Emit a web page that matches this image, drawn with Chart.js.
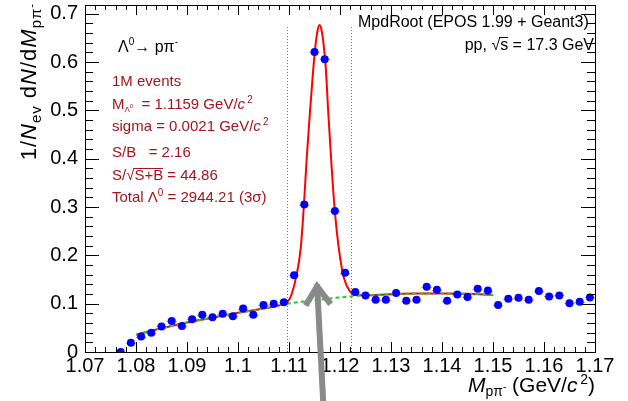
<!DOCTYPE html>
<html>
<head>
<meta charset="utf-8">
<script src="https://cdn.jsdelivr.net/npm/chart.js@4.4.1/dist/chart.umd.min.js"></script>
<style>
  body { margin: 0; background: #fff; }
</style>
</head>
<body>
<canvas id="lambda-mass-chart" width="628" height="401"></canvas>
<script>
// Invariant mass bins (bin centres, GeV/c^2) and 1/Nev dN/dM values
const massBins = [
    1.077, 1.079, 1.081, 1.083, 1.085, 1.087, 1.089, 1.091, 1.093, 1.095,
    1.097, 1.099, 1.101, 1.103, 1.105, 1.107, 1.109, 1.111, 1.113, 1.115,
    1.117, 1.119, 1.121, 1.123, 1.125, 1.127, 1.129, 1.131, 1.133, 1.135,
    1.137, 1.139, 1.141, 1.143, 1.145, 1.147, 1.149, 1.151, 1.153, 1.155,
    1.157, 1.159, 1.161, 1.163, 1.165, 1.167, 1.169
];
const yieldValues = [
    0.000, 0.019, 0.032, 0.040, 0.053, 0.064, 0.054, 0.068, 0.077, 0.072,
    0.079, 0.074, 0.090, 0.077, 0.097, 0.100, 0.103, 0.159, 0.305, 0.621,
    0.606, 0.292, 0.164, 0.124, 0.117, 0.108, 0.108, 0.122, 0.106, 0.108,
    0.135, 0.129, 0.106, 0.119, 0.114, 0.131, 0.127, 0.097, 0.110, 0.112,
    0.108, 0.126, 0.115, 0.117, 0.101, 0.104, 0.113
];
const binHalfWidth = 0.001;

// Fit: signal + background (red), background only (green dashed)
const fitX = [
    1.080, 1.085, 1.090, 1.095, 1.100, 1.105, 1.107, 1.108, 1.109, 1.1098,
    1.1105, 1.1115, 1.1123, 1.1129, 1.1135, 1.1141, 1.1147, 1.1152, 1.1156, 1.1160,
    1.1164, 1.1168, 1.1172, 1.1177, 1.1184, 1.1190, 1.1199, 1.1208, 1.1220, 1.1232,
    1.125, 1.130, 1.135, 1.140, 1.145, 1.150
];
const fitY = [
    0.036, 0.049, 0.061, 0.071, 0.081, 0.090, 0.0935, 0.096, 0.100, 0.105,
    0.119, 0.160, 0.215, 0.300, 0.405, 0.495, 0.578, 0.635, 0.665, 0.6765,
    0.665, 0.635, 0.590, 0.495, 0.376, 0.290, 0.204, 0.152, 0.125, 0.118,
    0.1175, 0.1195, 0.121, 0.121, 0.1205, 0.118
];
const bgX = [1.080, 1.085, 1.090, 1.095, 1.100, 1.105, 1.110, 1.115, 1.120, 1.125, 1.130, 1.135, 1.140, 1.145, 1.150];
const bgY = [0.036, 0.049, 0.061, 0.071, 0.081, 0.090, 0.1005, 0.107, 0.113, 0.1175, 0.1195, 0.121, 0.121, 0.1205, 0.118];

// 3 sigma window and arrow (data coordinates)
const cutLines = [1.1096, 1.1222];
const cutTop = 0.673;
const arrowTip = [1.1155, 0.140];
const arrowTail = [1.1167, -0.102];

// Axis ticks
const xTickValues = [1.07, 1.08, 1.09, 1.10, 1.11, 1.12, 1.13, 1.14, 1.15, 1.16, 1.17];
const yTickValues = [0, 0.1, 0.2, 0.3, 0.4, 0.5, 0.6, 0.7];
const xMinorStep = 0.002;
const yMinorStep = 0.02;

const fontFamily = '"Liberation Sans", Arial, sans-serif';
const labelRed = '#a3161d';

function fmt(v) {
    return parseFloat(v.toFixed(3)).toString();
}

// small helper for text with sub/superscripts
function T(t, s, dy, it, over) {
    return { t: t, s: s, dy: dy || 0, it: !!it, over: !!over };
}

function drawRich(ctx, parts, x, y, align, color) {
    let total = 0;
    parts.forEach(p => {
        ctx.font = (p.it ? 'italic ' : '') + p.s + 'px ' + fontFamily;
        p.w = ctx.measureText(p.t).width;
        total += p.w;
    });
    let cx = align === 'right' ? x - total : x;
    ctx.fillStyle = color;
    ctx.strokeStyle = color;
    ctx.textAlign = 'left';
    ctx.textBaseline = 'alphabetic';
    parts.forEach(p => {
        ctx.font = (p.it ? 'italic ' : '') + p.s + 'px ' + fontFamily;
        ctx.fillText(p.t, cx, y + p.dy);
        if (p.over) {
            const oy = Math.round(y + p.dy - p.s * 0.8) + 0.5;
            ctx.lineWidth = 1;
            ctx.beginPath();
            ctx.moveTo(cx - 1, oy);
            ctx.lineTo(cx + p.w, oy);
            ctx.stroke();
        }
        cx += p.w;
    });
}

const rootStylePlugin = {
    id: 'rootStyle',
    beforeDatasetsDraw(chart) {
        const ctx = chart.ctx;
        const xs = chart.scales.x, ys = chart.scales.y;
        ctx.save();
        // 3 sigma window
        ctx.strokeStyle = '#777';
        ctx.lineWidth = 1;
        ctx.setLineDash([1, 2]);
        cutLines.forEach(c => {
            const px = Math.round(xs.getPixelForValue(c)) + 0.5;
            ctx.beginPath();
            ctx.moveTo(px, ys.getPixelForValue(0));
            ctx.lineTo(px, ys.getPixelForValue(cutTop));
            ctx.stroke();
        });
        ctx.setLineDash([]);
        // horizontal error bars
        ctx.strokeStyle = 'rgba(240, 90, 90, 0.8)';
        massBins.forEach((m, i) => {
            const py = Math.round(ys.getPixelForValue(yieldValues[i])) + 0.5;
            ctx.beginPath();
            ctx.moveTo(xs.getPixelForValue(m - binHalfWidth), py);
            ctx.lineTo(xs.getPixelForValue(m + binHalfWidth), py);
            ctx.stroke();
        });
        ctx.restore();
    },
    afterDraw(chart) {
        const ctx = chart.ctx;
        const a = chart.chartArea;
        const xs = chart.scales.x, ys = chart.scales.y;
        ctx.save();
        // frame
        ctx.strokeStyle = '#000';
        ctx.lineWidth = 1;
        ctx.strokeRect(Math.round(a.left) + 0.5, Math.round(a.top) + 0.5,
            Math.round(a.right - a.left), Math.round(a.bottom - a.top));
        // ticks pointing inwards, on all four sides
        ctx.beginPath();
        for (let v = xTickValues[0]; v <= xTickValues[xTickValues.length - 1] + 1e-9; v += xMinorStep) {
            const major = xTickValues.some(t => Math.abs(t - v) < 1e-6);
            const len = major ? 10 : 5;
            const px = Math.round(xs.getPixelForValue(v)) + 0.5;
            ctx.moveTo(px, a.bottom);
            ctx.lineTo(px, a.bottom - len);
            ctx.moveTo(px, a.top);
            ctx.lineTo(px, a.top + len);
        }
        for (let v = 0; v <= ys.max + 1e-9; v += yMinorStep) {
            const major = yTickValues.some(t => Math.abs(t - v) < 1e-6);
            const len = major ? 14 : 8;
            const py = Math.round(ys.getPixelForValue(v)) + 0.5;
            ctx.moveTo(a.left, py);
            ctx.lineTo(a.left + len, py);
            ctx.moveTo(a.right, py);
            ctx.lineTo(a.right - len, py);
        }
        ctx.stroke();

        // arrow pointing at the peak
        const tx = xs.getPixelForValue(arrowTip[0]), ty = ys.getPixelForValue(arrowTip[1]);
        const bx = xs.getPixelForValue(arrowTail[0]), by = ys.getPixelForValue(arrowTail[1]);
        const ang = Math.atan2(by - ty, bx - tx);
        ctx.strokeStyle = '#8a8a8a';
        ctx.lineWidth = 6;
        ctx.beginPath();
        ctx.moveTo(bx, by);
        ctx.lineTo(tx, ty);
        ctx.stroke();
        ctx.beginPath();
        ctx.moveTo(tx + 24 * Math.cos(ang - 0.55), ty + 24 * Math.sin(ang - 0.55));
        ctx.lineTo(tx, ty + 2);
        ctx.lineTo(tx + 24 * Math.cos(ang + 0.55), ty + 24 * Math.sin(ang + 0.55));
        ctx.stroke();

        // labels
        drawRich(ctx, [T('Λ', 16), T('0', 10, -7), T('→ pπ', 16), T('-', 10, -7)], 118, 52, 'left', '#000');
        const rs = 15;
        drawRich(ctx, [T('1M events', rs)], 112, 86, 'left', labelRed);
        drawRich(ctx, [T('M', rs), T('Λ', 8, 3), T('0', 6, -1), T('  = 1.1159 GeV/', rs), T('c', rs, 0, true), T(' ', 8), T('2', 10, -6)], 112, 109, 'left', labelRed);
        drawRich(ctx, [T('sigma = 0.0021 GeV/', rs), T('c', rs, 0, true), T(' ', 8), T('2', 10, -6)], 112, 131, 'left', labelRed);
        drawRich(ctx, [T('S/B   = 2.16', rs)], 112, 157, 'left', labelRed);
        drawRich(ctx, [T('S/', rs), T('√', rs), T('S+B', rs, 0, false, true), T(' = 44.86', rs)], 112, 180, 'left', labelRed);
        drawRich(ctx, [T('Total Λ', rs), T('0', 10, -6), T(' = 2944.21 (3σ)', rs)], 112, 202, 'left', labelRed);

        drawRich(ctx, [T('MpdRoot (EPOS 1.99 + Geant3)', 16)], 358, 27, 'left', '#000');
        drawRich(ctx, [T('pp, ', 16), T('√', 16), T('s', 16, 0, false, true), T(' = 17.3 GeV', 16)], 594, 50, 'right', '#000');

        // axis titles
        drawRich(ctx, [T('M', 21, 0, true), T('pπ', 14, 4), T('-', 10, -2), T(' (GeV/', 21), T('c', 21, 0, true), T(' ', 10), T('2', 14, -8), T(')', 21)], 595, 392, 'right', '#000');
        ctx.translate(36, 3);
        ctx.rotate(-Math.PI / 2);
        ctx.letterSpacing = '1px';
        drawRich(ctx, [T('1/', 22), T('N', 22, 0, true), T('ev', 15, 5), T(' d', 22), T('N', 22, 0, true), T('/d', 22), T('M', 22, 0, true), T('pπ', 15, 5), T('-', 11, -1)], 0, 0, 'right', '#000');
        ctx.restore();
    }
};

function massChartConfig() {
    const data = {
        datasets: [
            {
                type: 'scatter',
                data: massBins.map((m, i) => ({ x: m, y: yieldValues[i] })),
                backgroundColor: '#0000ff',
                borderWidth: 0,
                pointRadius: 4,
                order: 0
            },
            {
                type: 'line',
                data: bgX.map((m, i) => ({ x: m, y: bgY[i] })),
                borderColor: '#2ec52e',
                borderWidth: 2,
                borderDash: [4, 3],
                pointRadius: 0,
                cubicInterpolationMode: 'monotone',
                order: 1
            },
            {
                type: 'line',
                data: fitX.map((m, i) => ({ x: m, y: fitY[i] })),
                borderColor: '#ff0000',
                borderWidth: 2,
                pointRadius: 0,
                cubicInterpolationMode: 'monotone',
                order: 2
            }
        ]
    };

    const config = {
        type: 'scatter',
        data: data,
        options: {
            responsive: false,
            animation: false,
            devicePixelRatio: 1,
            layout: { padding: { top: 5, right: 33, left: 0, bottom: 0 } },
            plugins: {
                legend: { display: false },
                tooltip: { enabled: false }
            },
            scales: {
                x: {
                    type: 'linear',
                    min: 1.07,
                    max: 1.17,
                    grid: { display: false, drawTicks: false },
                    border: { display: false },
                    ticks: {
                        font: { family: fontFamily, size: 20 },
                        color: '#000',
                        padding: 2,
                        maxRotation: 0,
                        autoSkip: false,
                        callback: v => fmt(v)
                    },
                    afterBuildTicks: s => { s.ticks = xTickValues.map(v => ({ value: v })); },
                    afterFit: s => { s.height = 49; s.paddingLeft = 0; s.paddingRight = 0; }
                },
                y: {
                    type: 'linear',
                    min: 0,
                    max: 0.718,
                    grid: { display: false, drawTicks: false },
                    border: { display: false },
                    ticks: {
                        font: { family: fontFamily, size: 20 },
                        color: '#000',
                        padding: 7,
                        autoSkip: false,
                        callback: v => fmt(v)
                    },
                    afterBuildTicks: s => { s.ticks = yTickValues.map(v => ({ value: v })); },
                    afterFit: s => { s.width = 85; s.paddingTop = 0; s.paddingBottom = 0; }
                }
            }
        },
        plugins: [rootStylePlugin]
    };
    return config;
}

const ctxMass = document.getElementById('lambda-mass-chart');
new Chart(ctxMass, massChartConfig());
</script>
</body>
</html>
